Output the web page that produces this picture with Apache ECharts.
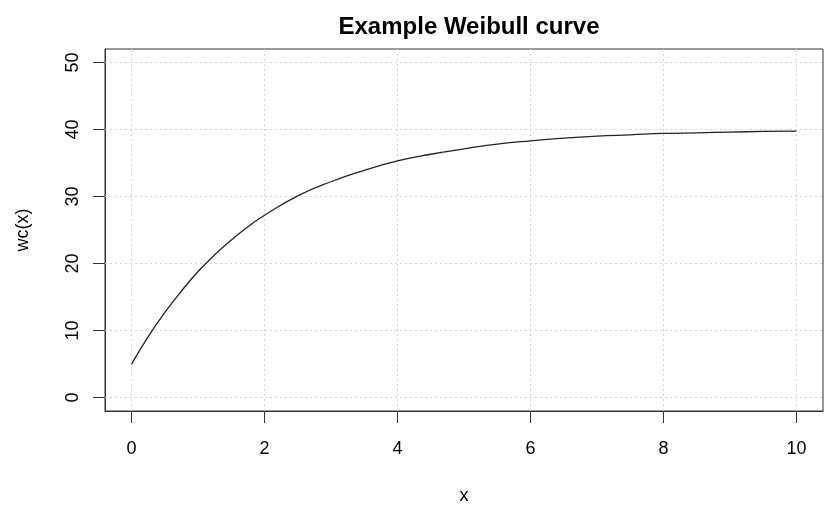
<!DOCTYPE html>
<html>
<head>
<meta charset="utf-8">
<script src="https://cdn.jsdelivr.net/npm/echarts@6/dist/echarts.min.js"></script>
<style>html,body{margin:0;padding:0;background:#fff}#c{width:840px;height:519px}</style>
</head>
<body>
<div id="c"></div>
<script>
const xValues = [0, 0.25, 0.5, 0.75, 1, 1.25, 1.5, 1.75, 2, 2.5, 3, 3.5, 4, 4.5, 5, 5.5, 6, 6.5, 7, 7.5, 8, 8.5, 9, 9.5, 10];
const wcValues = [5.0, 9.1, 12.7, 15.9, 18.8, 21.3, 23.5, 25.5, 27.2, 30.1, 32.2, 33.9, 35.3, 36.3, 37.1, 37.8, 38.3, 38.7, 39.0, 39.2, 39.4, 39.5, 39.6, 39.7, 39.75];
const xTicks = [0, 2, 4, 6, 8, 10];
const yTicks = [0, 10, 20, 30, 40, 50];

const FONT = 'Liberation Sans, Arial, sans-serif';
const chart = echarts.init(document.getElementById('c'), null, {renderer: 'canvas'});
const gridLineStyle = {color: '#d3d3d3', type: [2, 3], width: 1};

chart.setOption({
  animation: false,
  backgroundColor: '#fff',
  title: {
    text: 'Example Weibull curve',
    left: 464, top: 10, textAlign: 'center',
    textStyle: {fontFamily: FONT, fontSize: 24, fontWeight: 'bold', color: '#000'}
  },
  grid: {left: 105, right: 17, top: 49, bottom: 108, show: true, borderColor: '#333', borderWidth: 1, backgroundColor: 'transparent'},
  xAxis: {
    type: 'value', min: -0.4, max: 10.4,
    name: 'x', nameLocation: 'middle', nameGap: 76,
    nameTextStyle: {fontFamily: FONT, fontSize: 18, color: '#000'},
    axisLine: {show: true, onZero: false, lineStyle: {color: '#333', width: 1}},
    axisTick: {show: true, customValues: xTicks, length: 12, lineStyle: {color: '#333'}},
    axisLabel: {customValues: xTicks, margin: 29, fontFamily: FONT, fontSize: 18, color: '#000'},
    splitLine: {show: false}
  },
  yAxis: {
    type: 'value', min: -2, max: 52,
    name: 'wc(x)', nameLocation: 'middle', nameGap: 73, nameRotate: 90,
    nameTextStyle: {fontFamily: FONT, fontSize: 18, color: '#000'},
    axisLine: {show: true, onZero: false, lineStyle: {color: '#333', width: 1}},
    axisTick: {show: true, customValues: yTicks, length: 12, lineStyle: {color: '#333'}},
    axisLabel: {customValues: yTicks, rotate: 90, margin: 23, fontFamily: FONT, fontSize: 18, color: '#000'},
    splitLine: {show: false}
  },
  series: [{
    type: 'line',
    data: xValues.map((x, i) => [x, wcValues[i]]),
    showSymbol: false,
    smooth: true,
    lineStyle: {color: '#222', width: 1.3},
    z: 5,
    markLine: {
      silent: true, symbol: 'none', label: {show: false},
      lineStyle: gridLineStyle,
      animation: false,
      data: xTicks.map(v => ({xAxis: v})).concat(yTicks.map(v => ({yAxis: v})))
    }
  }]
});
</script>
</body>
</html>
